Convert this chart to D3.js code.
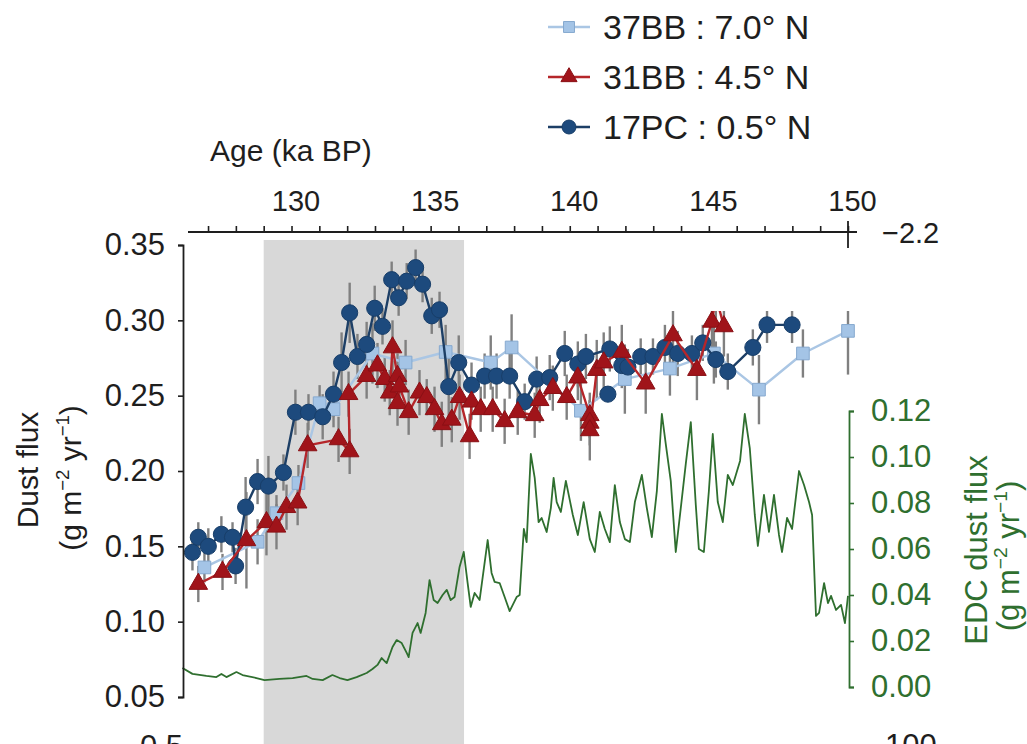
<!DOCTYPE html>
<html>
<head>
<meta charset="utf-8">
<script src="https://cdn.jsdelivr.net/npm/d3@7"></script>
<style>
  body { margin: 0; background: #fff; }
  svg { display: block; }
  text { font-family: "Liberation Sans", Arial, Helvetica, sans-serif; }
</style>
</head>
<body>
<svg id="chart" width="1027" height="744"></svg>
<script>
// ---- Age axis (ka BP) ----
const ageTicks = d3.range(127, 151);
const ageLabels = [130, 135, 140, 145, 150];
const fluxTicks = [0.05, 0.10, 0.15, 0.20, 0.25, 0.30, 0.35];
const edcTicks = [0.00, 0.02, 0.04, 0.06, 0.08, 0.10, 0.12];
const shadedAges = [129.0, 136.2];

// ---- 17PC : 0.5° N ----
const pc17Age = [126.44,126.65,127.01,127.48,127.88,127.99,128.35,128.78,129.17,129.71,
  130.14,130.61,131.12,131.51,131.80,132.09,132.37,132.70,132.99,133.27,
  133.60,133.85,134.14,134.46,134.71,135.04,135.32,135.65,136.01,136.47,
  136.94,137.37,137.84,138.38,138.81,139.28,139.82,140.29,140.58,141.44,
  141.87,142.09,142.55,142.99,143.42,143.88,144.39,144.78,145.25,145.68,
  146.58,147.09,147.99];
const pc17Flux = [0.146,0.156,0.150,0.158,0.156,0.137,0.176,0.193,0.190,0.199,
  0.239,0.239,0.236,0.251,0.272,0.305,0.276,0.284,0.308,0.296,
  0.327,0.315,0.326,0.335,0.324,0.303,0.307,0.256,0.272,0.257,
  0.263,0.263,0.263,0.246,0.261,0.262,0.278,0.271,0.276,0.281,
  0.270,0.269,0.276,0.276,0.282,0.278,0.278,0.285,0.274,0.266,
  0.282,0.297,0.297];
const pc17Err = [0.012,0.010,0.012,0.012,0.010,0.012,0.020,0.015,0.020,0.012,
  0.015,0.012,0.015,0.015,0.020,0.020,0.015,0.015,0.015,0.012,
  0.012,0.012,0.012,0.012,0.012,0.012,0.012,0.020,0.018,0.015,
  0.015,0.015,0.015,0.012,0.015,0.015,0.015,0.015,0.015,0.015,
  0.015,0.012,0.012,0.012,0.015,0.015,0.012,0.012,0.012,0.012,
  0.012,0.012,0.012];
// sample shown without a connecting segment
const pc17LooseAge = [141.37];
const pc17LooseFlux = [0.251];

// ---- 31BB : 4.5° N ----
const bb31Age = [126.65,127.52,128.38,129.10,129.46,129.82,130.22,130.58,131.69,132.09,
  132.05,132.70,133.09,133.35,133.53,133.63,133.81,133.81,133.88,134.21,
  134.60,134.86,135.14,135.40,135.76,136.04,136.40,136.47,136.80,137.23,
  137.66,138.13,138.74,138.92,139.39,139.89,140.29,140.72,140.72,140.72,
  140.97,141.22,141.87,142.73,143.71,144.57,145.11,145.25,145.54];
const bb31Flux = [0.125,0.133,0.154,0.166,0.163,0.176,0.179,0.217,0.221,0.213,
  0.251,0.263,0.270,0.261,0.252,0.282,0.263,0.245,0.256,0.239,
  0.252,0.249,0.241,0.231,0.234,0.249,0.223,0.246,0.241,0.241,
  0.233,0.239,0.237,0.247,0.255,0.249,0.262,0.237,0.232,0.227,
  0.267,0.272,0.279,0.258,0.290,0.267,0.299,0.316,0.296];
const bb31Err = [0.012,0.012,0.032,0.022,0.015,0.015,0.015,0.015,0.015,0.015,
  0.015,0.015,0.015,0.015,0.015,0.018,0.015,0.015,0.015,0.015,
  0.015,0.012,0.015,0.015,0.015,0.015,0.015,0.012,0.015,0.015,
  0.015,0.015,0.015,0.015,0.015,0.015,0.015,0.015,0.015,0.020,
  0.020,0.020,0.018,0.020,0.026,0.020,0.020,0.020,0.020];

// ---- 37BB : 7.0° N ----
const bb37Age = [126.87,128.78,129.46,130.25,131.01,131.51,132.91,134.10,135.54,137.16,
  137.91,140.40,141.98,143.60,145.18,146.80,148.38,150.00];
const bb37Flux = [0.136,0.153,0.172,0.192,0.245,0.241,0.278,0.272,0.279,0.272,
  0.282,0.240,0.261,0.268,0.278,0.254,0.278,0.293];
const bb37Err = [0.010,0.015,0.012,0.012,0.012,0.012,0.020,0.015,0.018,0.018,
  0.022,0.020,0.023,0.018,0.020,0.023,0.016,0.029];

// ---- EDC dust flux (g m-2 yr-1) ----
const edcAge = [126.08,126.44,126.94,127.30,127.48,127.66,128.02,128.24,128.74,129.03,
  129.57,130.04,130.54,130.76,131.12,131.47,131.73,132.01,132.34,132.70,
  132.91,133.09,133.24,133.42,133.63,133.78,133.96,134.14,134.21,134.35,
  134.53,134.64,134.82,134.96,135.11,135.25,135.43,135.58,135.72,135.86,
  136.04,136.19,136.33,136.44,136.58,136.76,137.05,137.19,137.30,137.48,
  137.66,137.84,138.09,138.20,138.35,138.45,138.60,138.74,138.88,138.99,
  139.17,139.32,139.42,139.53,139.68,139.86,140.11,140.29,140.50,140.72,
  140.90,141.08,141.26,141.44,141.62,141.80,141.98,142.16,142.34,142.59,
  142.77,142.95,143.13,143.31,143.45,143.63,143.81,143.99,144.17,144.35,
  144.53,144.64,144.82,145.00,145.14,145.32,145.50,145.68,145.86,146.12,
  146.29,146.47,146.65,146.76,146.98,147.16,147.34,147.52,147.63,147.81,
  147.99,148.24,148.42,148.60,148.71,148.85,148.96,149.14,149.28,149.39,
  149.57,149.75,149.89,150.00];
const edcFlux = [0.0083,0.0057,0.0048,0.0043,0.0057,0.0043,0.0065,0.0052,0.0039,0.0030,
  0.0035,0.0039,0.0048,0.0035,0.0030,0.0052,0.0039,0.0030,0.0043,0.0061,
  0.0078,0.0096,0.0126,0.0104,0.0174,0.0204,0.0191,0.0148,0.0130,0.0235,
  0.0278,0.0235,0.0322,0.0465,0.0378,0.0365,0.0400,0.0422,0.0378,0.0391,
  0.0522,0.0587,0.0452,0.0348,0.0409,0.0378,0.0639,0.0496,0.0457,0.0452,
  0.0391,0.0330,0.0391,0.0400,0.0687,0.0630,0.1013,0.0909,0.0717,0.0735,
  0.0674,0.0778,0.0909,0.0804,0.0761,0.0896,0.0748,0.0661,0.0804,0.0643,
  0.0587,0.0761,0.0687,0.0630,0.0878,0.0717,0.0643,0.0630,0.0804,0.0922,
  0.0778,0.0652,0.0852,0.1187,0.1057,0.0896,0.0587,0.0778,0.0970,0.1152,
  0.0791,0.0600,0.0587,0.0852,0.1100,0.0804,0.0717,0.0922,0.0878,0.0983,
  0.1187,0.1039,0.0748,0.0613,0.0835,0.0674,0.0835,0.0661,0.0587,0.0735,
  0.0687,0.0939,0.0878,0.0804,0.0748,0.0309,0.0322,0.0452,0.0365,0.0396,
  0.0335,0.0357,0.0278,0.0396];

// ---- scales ----
const svg = d3.select('#chart');
const x = d3.scaleLinear().domain([126.1, 150]).range([183, 848]);
const y = d3.scaleLinear().domain([0.05, 0.35]).range([697, 245]);
const yEdc = d3.scaleLinear().domain([0, 0.12]).range([687, 411]);

const INK = '#1e1e1e';
const GREEN = '#2f6f2f';
const FS_TICK = 31;   // y-axis tick labels
const FS_TOP = 29;    // age tick labels
const FS_TITLE = 30;  // axis titles
const FS_LEG = 34;    // legend entries

// shaded interval
svg.append('rect')
  .attr('x', x(shadedAges[0])).attr('y', 240)
  .attr('width', x(shadedAges[1]) - x(shadedAges[0])).attr('height', 504)
  .attr('fill', '#d8d8d8');

// EDC record
svg.append('path')
  .datum(edcAge.map((a, i) => ({ a, v: edcFlux[i] })))
  .attr('d', d3.line().x(d => x(d.a)).y(d => yEdc(d.v)))
  .attr('fill', 'none').attr('stroke', GREEN).attr('stroke-width', 1.8)
  .attr('stroke-linejoin', 'round');

// marine cores
const series = [
  { name: '37BB : 7.0° N', age: bb37Age, flux: bb37Flux, err: bb37Err,
    line: '#aac6e4', fill: '#a4c4e6', stroke: '#86a9cf', shape: d3.symbolSquare, size: 160 },
  { name: '31BB : 4.5° N', age: bb31Age, flux: bb31Flux, err: bb31Err,
    line: '#b5262a', fill: '#a0141a', stroke: '#8a1015', shape: d3.symbolTriangle, size: 150 },
  { name: '17PC : 0.5° N', age: pc17Age, flux: pc17Flux, err: pc17Err,
    line: '#1d3f66', fill: '#1d4a7d', stroke: '#183e69', shape: d3.symbolCircle, size: 205 }
];
series.forEach(s => { s.pts = s.age.map((a, i) => ({ a, v: s.flux[i], e: s.err[i] })); });

// error bars under everything
const gErr = svg.append('g');
series.forEach(s => {
  gErr.selectAll(null).data(s.pts).enter().append('line')
    .attr('x1', d => x(d.a)).attr('x2', d => x(d.a))
    .attr('y1', d => y(d.v - d.e)).attr('y2', d => y(d.v + d.e))
    .attr('stroke', '#808080').attr('stroke-width', 2.4);
});

// draw order: 37BB, 17PC, 31BB
[series[0], series[2], series[1]].forEach(s => {
  const g = svg.append('g');
  g.append('path').datum(s.pts)
    .attr('d', d3.line().x(d => x(d.a)).y(d => y(d.v)))
    .attr('fill', 'none').attr('stroke', s.line).attr('stroke-width', 2.4)
    .attr('stroke-linejoin', 'round');
  g.selectAll(null).data(s.pts).enter().append('path')
    .attr('transform', d => `translate(${x(d.a)},${y(d.v)})`)
    .attr('d', d3.symbol().type(s.shape).size(s.size))
    .attr('fill', s.fill).attr('stroke', s.stroke).attr('stroke-width', 1);
  if (s.shape === d3.symbolCircle) {
    g.selectAll(null).data(pc17LooseAge.map((a, i) => ({ a, v: pc17LooseFlux[i] }))).enter()
      .append('path')
      .attr('transform', d => `translate(${x(d.a)},${y(d.v)})`)
      .attr('d', d3.symbol().type(s.shape).size(s.size))
      .attr('fill', s.fill).attr('stroke', s.stroke).attr('stroke-width', 1);
  }
});

// blank strip below the top axis on the right
svg.append('rect').attr('x', 600).attr('y', 236).attr('width', 252).attr('height', 75).attr('fill', '#fff');

// ---- top age axis ----
const gTop = svg.append('g').attr('transform', 'translate(0,232)')
  .call(d3.axisTop(x).tickValues(ageTicks)
    .tickFormat(d => ageLabels.includes(d) ? d : '')
    .tickSize(6).tickSizeOuter(0).tickPadding(15));
gTop.select('.domain').remove();
gTop.append('line').attr('x1', 188).attr('x2', 857).attr('stroke', INK).attr('stroke-width', 1.8);
gTop.selectAll('.tick line').attr('stroke', INK).attr('stroke-width', 1.6);
gTop.selectAll('.tick text').attr('fill', INK).attr('font-size', FS_TOP).attr('dx', 4);
svg.append('line').attr('x1', 848).attr('x2', 848).attr('y1', 221).attr('y2', 248)
  .attr('stroke', INK).attr('stroke-width', 1.8);
svg.append('text').attr('x', 882).attr('y', 243).attr('font-size', FS_TOP).attr('fill', INK).text('−2.2');
svg.append('text').attr('x', 210).attr('y', 161).attr('font-size', FS_TITLE).attr('fill', INK).text('Age (ka BP)');

// ---- left dust flux axis ----
const gLeft = svg.append('g').attr('transform', 'translate(183,0)')
  .call(d3.axisLeft(y).tickValues(fluxTicks).tickFormat(d3.format('.2f'))
    .tickSize(5).tickSizeOuter(5).tickPadding(13));
gLeft.select('.domain').attr('stroke', INK).attr('stroke-width', 1.8);
gLeft.selectAll('.tick line').attr('stroke', INK).attr('stroke-width', 1.6);
gLeft.selectAll('.tick text').attr('fill', INK).attr('font-size', FS_TICK);

function unitsLabel(sel, fs) {
  const up = Math.round(fs * 0.4);
  sel.append('tspan').text('(g m');
  sel.append('tspan').attr('dy', -up).attr('font-size', fs * 0.62).text('−2');
  sel.append('tspan').attr('dy', up).text(' yr');
  sel.append('tspan').attr('dy', -up).attr('font-size', fs * 0.62).text('−1');
  sel.append('tspan').attr('dy', up).text(')');
}
svg.append('text').attr('transform', 'translate(38,470) rotate(-90)')
  .attr('text-anchor', 'middle').attr('font-size', FS_TITLE).attr('fill', INK).text('Dust flux');
svg.append('text').attr('transform', 'translate(81,478) rotate(-90)')
  .attr('text-anchor', 'middle').attr('font-size', FS_TITLE).attr('fill', INK)
  .call(unitsLabel, FS_TITLE);

// ---- right EDC axis ----
const gRight = svg.append('g').attr('transform', 'translate(849,0)')
  .call(d3.axisRight(yEdc).tickValues(edcTicks).tickFormat(d3.format('.2f'))
    .tickSize(5).tickSizeOuter(5).tickPadding(17));
gRight.select('.domain').attr('stroke', GREEN).attr('stroke-width', 1.8);
gRight.selectAll('.tick line').attr('stroke', GREEN).attr('stroke-width', 1.6);
gRight.selectAll('.tick text').attr('fill', GREEN).attr('font-size', FS_TICK);

svg.append('text').attr('transform', 'translate(987,550) rotate(-90)')
  .attr('text-anchor', 'middle').attr('font-size', FS_TITLE + 1).attr('fill', GREEN).text('EDC dust flux');
svg.append('text').attr('transform', 'translate(1019,556) rotate(-90)')
  .attr('text-anchor', 'middle').attr('font-size', FS_TITLE + 1).attr('fill', GREEN)
  .call(unitsLabel, FS_TITLE + 1);

// ---- legend ----
const legendRows = [series[0], series[1], series[2]];
legendRows.forEach((s, i) => {
  const cy = 27 + i * 50;
  const g = svg.append('g');
  g.append('line').attr('x1', 548).attr('x2', 590).attr('y1', cy).attr('y2', cy)
    .attr('stroke', s.line).attr('stroke-width', 2.4);
  g.append('path').attr('transform', `translate(569,${cy})`)
    .attr('d', d3.symbol().type(s.shape).size(s.size * 0.75))
    .attr('fill', s.fill).attr('stroke', s.stroke).attr('stroke-width', 1);
  g.append('text').attr('x', 603).attr('y', cy + 12).attr('font-size', FS_LEG)
    .attr('fill', INK).text(s.name);
});

// labels of the panel below, cut by the page edge
svg.append('text').attr('x', 183).attr('y', 757).attr('text-anchor', 'end')
  .attr('font-size', FS_TICK).attr('fill', INK).text('0.5');
svg.append('text').attr('x', 885).attr('y', 756)
  .attr('font-size', FS_TICK).attr('fill', INK).text('100');
</script>
</body>
</html>
